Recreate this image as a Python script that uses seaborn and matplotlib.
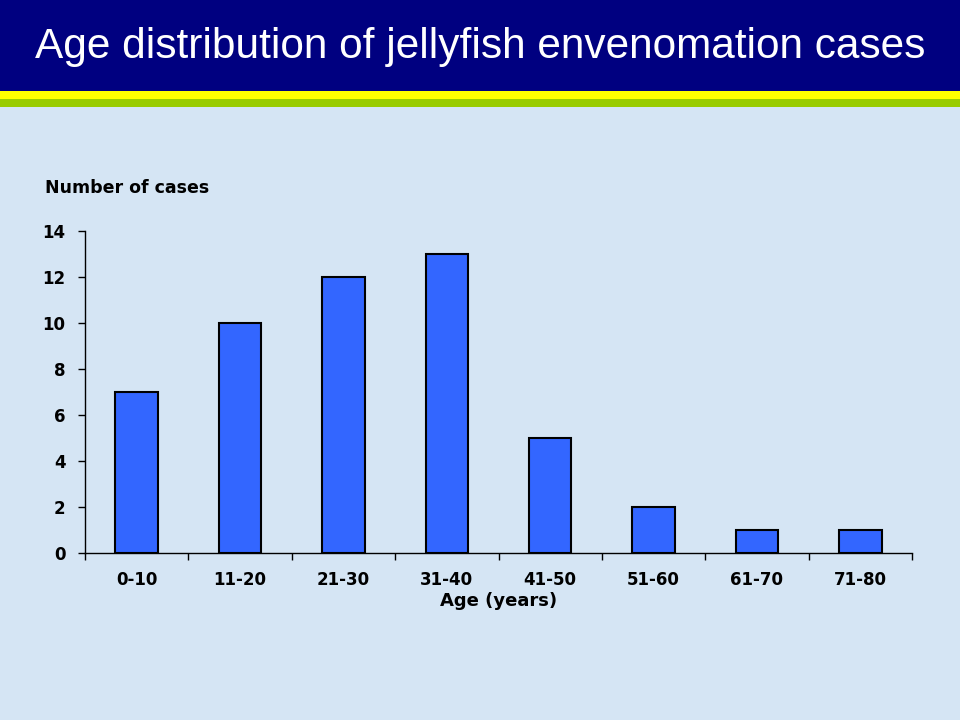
import pandas as pd
import numpy as np
import matplotlib.pyplot as plt
import seaborn as sns
from matplotlib.patches import Rectangle

# Data
age_groups = ['0-10', '11-20', '21-30', '31-40', '41-50', '51-60', '61-70', '71-80']
cases = [7, 10, 12, 13, 5, 2, 1, 1]

data = pd.DataFrame({'age': age_groups, 'cases': cases})

sns.set_style('ticks')
plt.rcParams['font.family'] = ['DejaVu Sans']
plt.rcParams['text.color'] = 'black'
plt.rcParams['xtick.color'] = 'black'
plt.rcParams['ytick.color'] = 'black'
plt.rcParams['axes.labelcolor'] = 'black'
plt.rcParams['axes.edgecolor'] = 'black'

fig = plt.figure(figsize=(9.6, 7.2), dpi=100)
fig.patch.set_facecolor('#D5E5F4')

# Slide header: navy band with yellow / green stripes
fig.patches.append(Rectangle((0, 1 - 91 / 720), 1, 91 / 720, transform=fig.transFigure,
                             facecolor='#000080', edgecolor='none', zorder=0))
fig.patches.append(Rectangle((0, 1 - 99 / 720), 1, 8 / 720, transform=fig.transFigure,
                             facecolor='#FFFF00', edgecolor='none', zorder=0))
fig.patches.append(Rectangle((0, 1 - 107 / 720), 1, 8 / 720, transform=fig.transFigure,
                             facecolor='#99CC00', edgecolor='none', zorder=0))
fig.text(0.5, 1 - 47 / 720, 'Age distribution of jellyfish envenomation cases',
         ha='center', va='center', color='white', fontsize=30.5,
         family=['Liberation Sans', 'DejaVu Sans'])

ax = fig.add_axes([85 / 960, 1 - 553 / 720, (912 - 85) / 960, (553 - 231) / 720])
ax.set_facecolor('none')

sns.barplot(data=data, x='age', y='cases', color='#3366FF', width=0.41,
            edgecolor='black', linewidth=1.5, saturation=1, ax=ax)

ax.set_ylim(0, 14)
ax.set_yticks(range(0, 15, 2))
ax.set_xlim(-0.5, len(age_groups) - 0.5)
ax.set_xticks(np.arange(-0.5, len(age_groups), 1), minor=False)
ax.set_xticklabels([])
ax.set_xticks(range(len(age_groups)), minor=True)
ax.set_xticklabels(age_groups, minor=True)
ax.tick_params(axis='x', which='major', length=5, width=1, direction='out')
ax.tick_params(axis='x', which='minor', length=0, pad=13, labelsize=12)
ax.tick_params(axis='y', length=5, width=1, direction='out', labelsize=12, pad=9)
for lbl in ax.get_xticklabels(minor=True) + ax.get_yticklabels():
    lbl.set_fontweight('bold')

for side in ['top', 'right']:
    ax.spines[side].set_visible(False)
ax.spines['left'].set_linewidth(1)
ax.spines['bottom'].set_linewidth(1)

ax.set_xlabel('Age (years)', fontsize=13, fontweight='bold', labelpad=2)
ax.set_ylabel('')
fig.text(45 / 960, 1 - 188 / 720, 'Number of cases', ha='left', va='center',
         fontsize=12.5, fontweight='bold')

fig.savefig('out.png', dpi=100, facecolor=fig.get_facecolor())
